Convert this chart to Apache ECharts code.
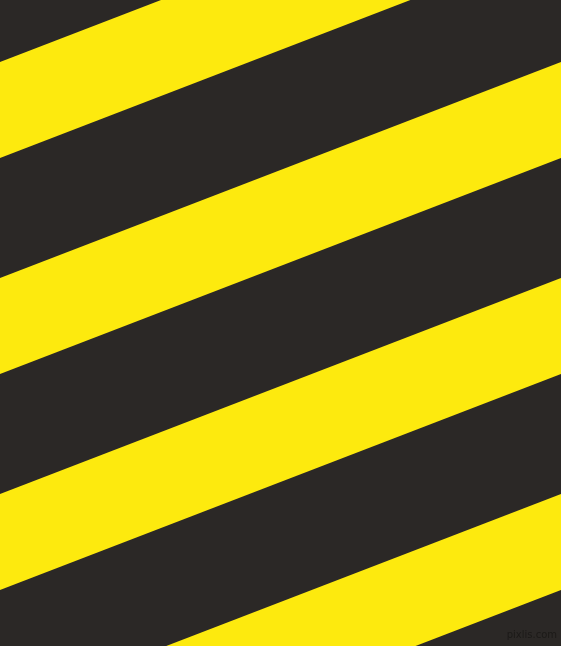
<!DOCTYPE html>
<html>
<head>
<meta charset="utf-8">
<script src="https://cdn.jsdelivr.net/npm/echarts@6/dist/echarts.min.js"></script>
<style>
  html, body { margin: 0; padding: 0; background: #2b2826; }
  #main { width: 561px; height: 646px; }
</style>
</head>
<body>
<div id="main"></div>
<script>
// yellow stripes: y at left edge (x=0) and right edge (x=561)
var stripeTopLeft = [62, 278, 494, 710];
var stripeBottomLeft = [158, 374, 590, 806];
var stripeTopRight = [-154, 62, 278, 494];
var stripeBottomRight = [-58, 158, 374, 590];

var chart = echarts.init(document.getElementById('main'));

var stripeData = stripeTopLeft.map(function (v, i) {
    return [v, stripeBottomLeft[i], stripeTopRight[i], stripeBottomRight[i]];
});

option = {
    backgroundColor: '#2b2826',
    animation: false,
    grid: { left: 0, right: 0, top: 0, bottom: 0 },
    xAxis: { type: 'value', min: 0, max: 561, show: false },
    yAxis: { type: 'value', min: 0, max: 646, inverse: true, show: false },
    graphic: [{
        type: 'text',
        right: 4,
        bottom: 6,
        style: {
            text: 'pixlis.com',
            fill: '#1c1a18',
            font: '10px "DejaVu Sans"'
        }
    }],
    series: [{
        type: 'custom',
        clip: true,
        data: stripeData,
        renderItem: function (params, api) {
            var pts = [
                api.coord([0, api.value(0)]),
                api.coord([561, api.value(2)]),
                api.coord([561, api.value(3)]),
                api.coord([0, api.value(1)])
            ];
            return {
                type: 'polygon',
                shape: { points: pts },
                style: { fill: '#fdea0e' }
            };
        }
    }]
};
chart.setOption(option);
</script>
</body>
</html>
